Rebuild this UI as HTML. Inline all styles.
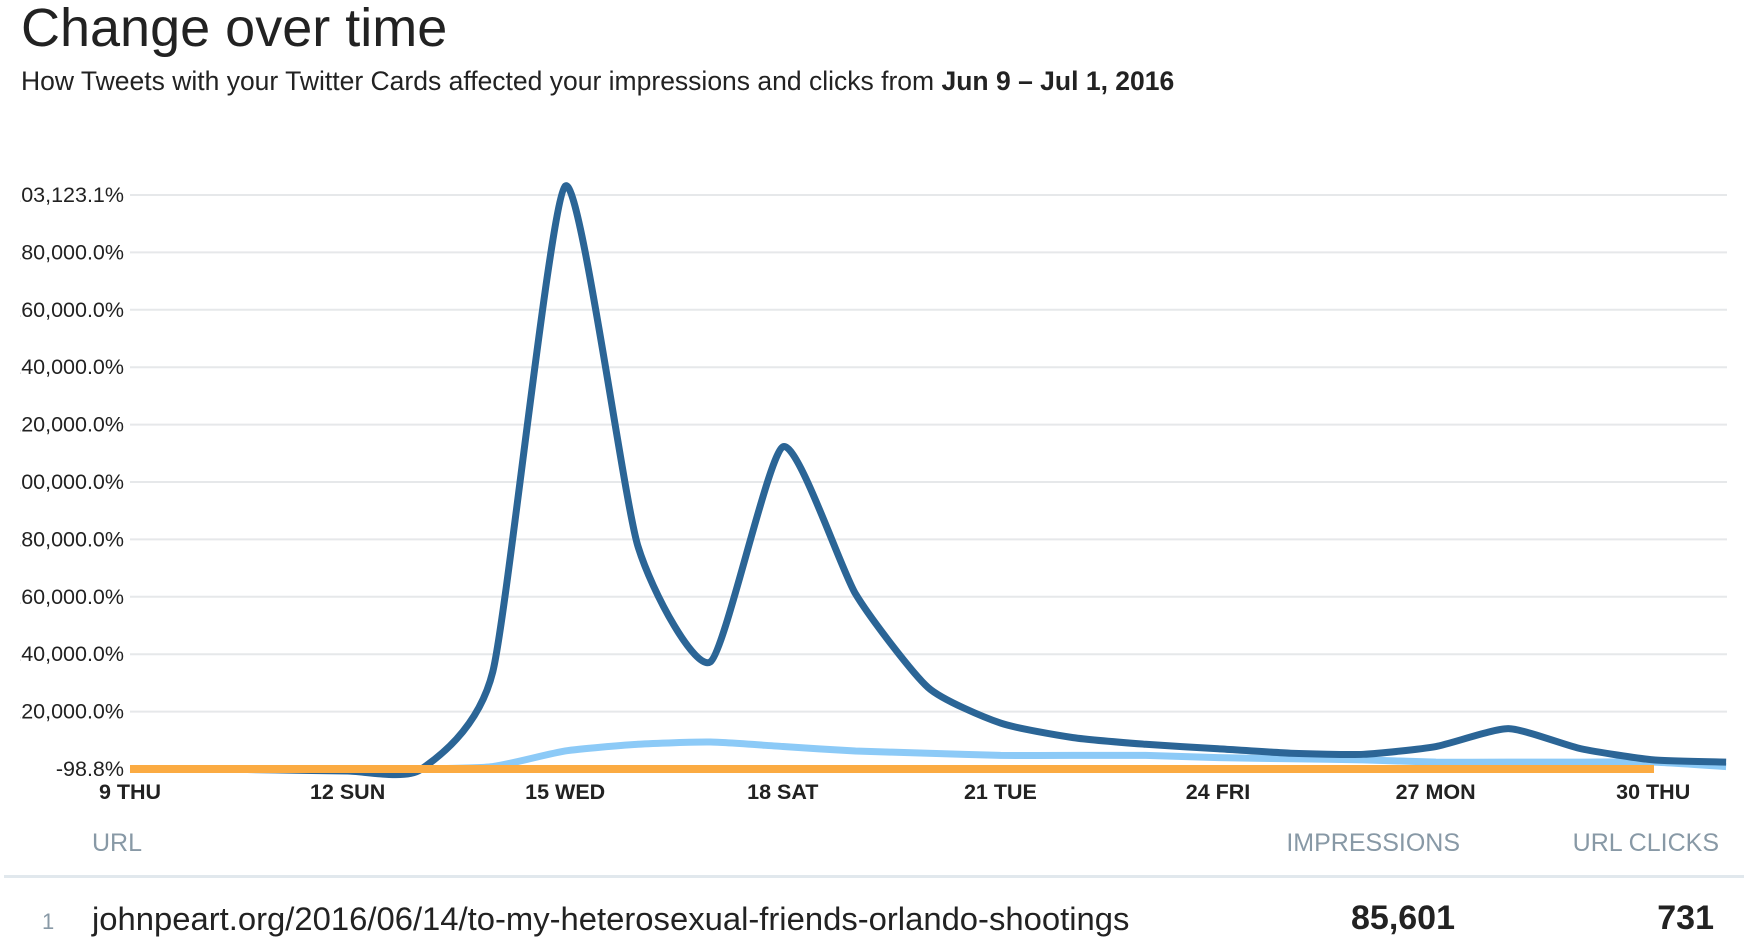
<!DOCTYPE html>
<html><head><meta charset="utf-8"><style>
body{margin:0;width:1747px;height:947px;background:#fff;font-family:"Liberation Sans",sans-serif;color:#14171a;overflow:hidden;position:relative}
.a{position:absolute;white-space:nowrap}
</style></head><body>
<div class="a" style="left:21px;top:-3px;font-size:54px;color:#222">Change over time</div>
<div class="a" style="left:21px;top:66px;font-size:26.5px;color:#222">How Tweets with your Twitter Cards affected your impressions and clicks from <b>Jun 9 – Jul 1, 2016</b></div>
<svg class="a" style="left:0;top:0" width="1747" height="947" id="s">
<defs><clipPath id="c"><rect x="20" y="0" width="1727" height="947"/></clipPath></defs>
<g stroke="#e6e8ea" stroke-width="2" id="grid"></g>
<g font-size="21.5" fill="#222" text-anchor="end" id="yl" clip-path="url(#c)"></g>
<g font-size="21.5" font-weight="bold" fill="#222" text-anchor="middle" id="xl"></g>
<path id="lt" fill="none" stroke="#8ccaf7" stroke-width="7" stroke-linejoin="round"/>
<path id="dk" fill="none" stroke="#2b6596" stroke-width="7" stroke-linejoin="round"/>
<line x1="130" y1="769" x2="1654" y2="769" stroke="#fbab42" stroke-width="8"/>
</svg>
<div class="a" style="left:92px;top:829px;font-size:25px;color:#8899a6">URL</div>
<div class="a" style="right:287px;top:829px;font-size:25px;color:#8899a6">IMPRESSIONS</div>
<div class="a" style="right:28px;top:829px;font-size:25px;color:#8899a6">URL CLICKS</div>
<div class="a" style="left:4px;top:875px;width:1740px;height:3px;background:#e1e8ed"></div>
<div class="a" style="left:42px;top:909px;font-size:22px;color:#8899a6">1</div>
<div class="a" style="left:92px;top:900px;font-size:32.8px;color:#222">johnpeart.org/2016/06/14/to-my-heterosexual-friends-orlando-shootings</div>
<div class="a" style="right:292px;top:899px;font-size:34px;font-weight:bold;color:#222">85,601</div>
<div class="a" style="right:33px;top:899px;font-size:34px;font-weight:bold;color:#222">731</div>
<script>
var ns="http://www.w3.org/2000/svg";
var labs=["103,123.1%","180,000.0%","160,000.0%","140,000.0%","120,000.0%","100,000.0%","80,000.0%","60,000.0%","40,000.0%","20,000.0%","-98.8%"];
labs=["203,123.1%","180,000.0%","160,000.0%","140,000.0%","120,000.0%","100,000.0%","180,000.0%","160,000.0%","140,000.0%","120,000.0%","-98.8%"];
for(var i=0;i<11;i++){var y=195+i*57.4;
 if(i<10){var l=document.createElementNS(ns,"line");l.setAttribute("x1",130);l.setAttribute("x2",1727);l.setAttribute("y1",y);l.setAttribute("y2",y);document.getElementById("grid").appendChild(l);}
 var t=document.createElementNS(ns,"text");t.setAttribute("x",124);t.setAttribute("y",y+7);t.textContent=labs[i];document.getElementById("yl").appendChild(t);}
var xs=["9 THU","12 SUN","15 WED","18 SAT","21 TUE","24 FRI","27 MON","30 THU"];
for(var i=0;i<8;i++){var t=document.createElementNS(ns,"text");t.setAttribute("x",130+i*217.6);t.setAttribute("y",799);t.textContent=xs[i];document.getElementById("xl").appendChild(t);}
var dk=[690,690,691,692,691,603,167,490,594,401,533,617,649,662,668,672,676,677,670,654,672,682,684];
var lt=[690,690,690,690,690,688,674,668,666,670,674,676,678,678,678,680,681,682,684,684,684,684,688];
function path(v){var p=v.map(function(y,d){return [130+72.55*d,y*1.1142]});
 var s="M"+p[0][0]+","+p[0][1];
 for(var i=0;i<p.length-1;i++){var p0=p[i-1]||p[i],p1=p[i],p2=p[i+1],p3=p[i+2]||p2,k=0.1;
  s+=" C"+(p1[0]+(p2[0]-p0[0])*k)+","+(p1[1]+(p2[1]-p0[1])*k)+" "+(p2[0]-(p3[0]-p1[0])*k)+","+(p2[1]-(p3[1]-p1[1])*k)+" "+p2[0]+","+p2[1];}
 return s;}
document.getElementById("dk").setAttribute("d",path(dk));
document.getElementById("lt").setAttribute("d",path(lt));
</script>
</body></html>
